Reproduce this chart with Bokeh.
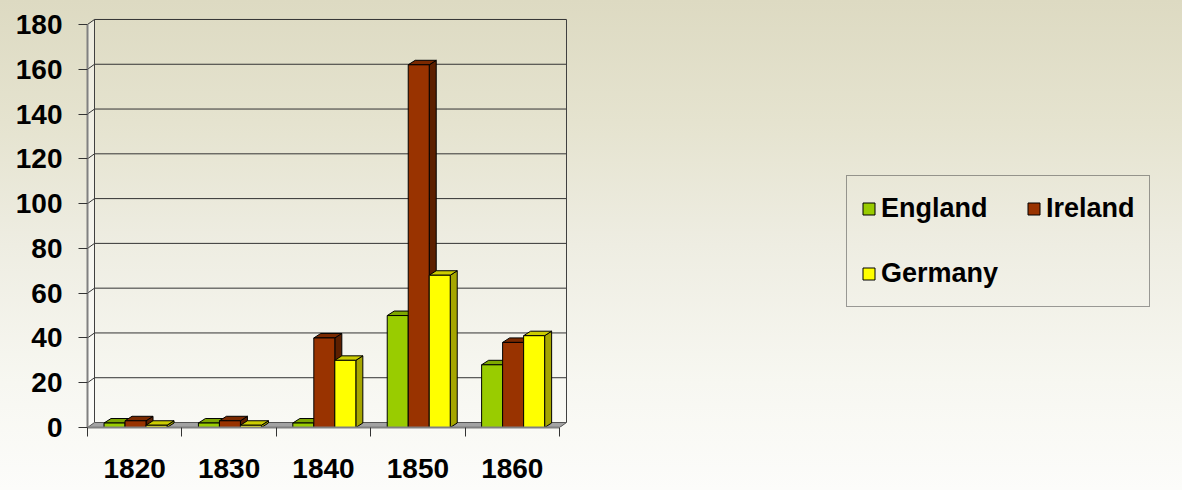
from bokeh.plotting import figure
from bokeh.models import Range1d, FixedTicker, Legend, LegendItem
from bokeh.embed import file_html
from bokeh.resources import INLINE

# ---- data ----
decades = ["1820", "1830", "1840", "1850", "1860"]
england = [2, 2, 2, 50, 28]
ireland = [3, 3, 40, 162, 38]
germany = [1, 1, 30, 68, 41]
series_names = ["England", "Ireland", "Germany"]
y_ticks = [0, 20, 40, 60, 80, 100, 120, 140, 160, 180]

# ---- styles ----
front_colors = ["#99cc00", "#993300", "#ffff00"]
top_colors = ["#7ea800", "#7a2900", "#cccc00"]
side_colors = ["#5f7f00", "#5c1f00", "#a6a600"]
FONT = "Liberation Sans"

W, H = 1182, 490
LEFT, BOTTOM = 87, 63
PX_X = 94.4     # pixels per category
PX_Y = 2.239    # pixels per unit
frame_w = W - LEFT
frame_h = H - BOTTOM
N = len(decades)
YMAX = y_ticks[-1]

DX, DY = 7 / PX_X, 5 / PX_Y        # wall depth
BDX, BDY = 7 / PX_X, 4.5 / PX_Y    # bar depth
BW = 0.2225                         # bar width (category units)
OFF = 0.175                         # group offset

p = figure(width=W, height=H, output_backend="svg", toolbar_location=None,
           x_range=Range1d(0, frame_w / PX_X), y_range=Range1d(0, frame_h / PX_Y),
           min_border_left=LEFT, min_border_right=0, min_border_top=0,
           min_border_bottom=BOTTOM)
p.background_fill_alpha = 0
p.border_fill_alpha = 0
p.outline_line_color = None
p.xgrid.visible = False
p.ygrid.visible = False
p.styles = {"background": "linear-gradient(to bottom, #dddac2 0%, #e5e3cf 25%, "
                          "#eeede2 50%, #f7f7f1 78%, #fcfcfa 100%)"}

# left wall
p.patch([0, DX, DX, 0], [0, DY, YMAX + DY, YMAX], fill_color="white",
        fill_alpha=0.45, line_color=None)
# back grid lines (incl. side-wall segments)
p.multi_line([[0, DX, N + DX] for v in y_ticks[1:]],
             [[v, v + DY, v + DY] for v in y_ticks[1:]],
             line_color="#333333", line_width=1)
# wall edges
p.segment(x0=[DX, N + DX], y0=[DY, DY], x1=[DX, N + DX], y1=[YMAX + DY, YMAX + DY],
          line_color="#404040", line_width=1)
# floor
p.patch([0, N, N + DX, DX], [0, 0, DY, DY], fill_color="#a3a3a3",
        line_color="#555555", line_width=1)

# bars
renderers = {}
for s, vals in enumerate([england, ireland, germany]):
    x0 = [i + OFF + s * BW for i in range(N)]
    x1 = [x + BW for x in x0]
    side_xs = [[a, a + BDX, a + BDX, a] for a in x1]
    side_ys = [[0, BDY, v + BDY, v] for v in vals]
    top_xs = [[a, b, b + BDX, a + BDX] for a, b in zip(x0, x1)]
    top_ys = [[v, v, v + BDY, v + BDY] for v in vals]
    p.patches(side_xs, side_ys, fill_color=side_colors[s], line_color="black", line_width=1)
    p.patches(top_xs, top_ys, fill_color=top_colors[s], line_color="black", line_width=1)
    r = p.quad(left=x0, right=x1, bottom=[0] * N, top=vals,
               fill_color=front_colors[s], line_color="black", line_width=1)
    renderers[series_names[s]] = r

# legend: column-major fill -> rows read England, Ireland / Germany
legend_order = ["England", "Germany", "Ireland"]
legend_items = [LegendItem(label=n, renderers=[renderers[n]]) for n in legend_order]

# axes
xa = p.xaxis[0]
xa.ticker = FixedTicker(ticks=[i + 0.5 for i in range(N)], minor_ticks=list(range(N + 1)))
xa.major_label_overrides = {i + 0.5: d for i, d in enumerate(decades)}
xa.bounds = (0, N)
xa.major_tick_out = 0
xa.major_tick_in = 0
xa.minor_tick_out = 9
xa.minor_tick_in = 0
xa.minor_tick_line_color = "#333333"
xa.axis_line_color = "#808080"
xa.axis_line_width = 2
xa.major_label_standoff = 22
xa.major_label_text_font = FONT
xa.major_label_text_font_style = "bold"
xa.major_label_text_font_size = "28px"
xa.major_label_text_color = "black"

ya = p.yaxis[0]
ya.ticker = FixedTicker(ticks=y_ticks, minor_ticks=[])
ya.bounds = (0, YMAX)
ya.major_tick_out = 9
ya.major_tick_in = 0
ya.major_tick_line_color = "#333333"
ya.axis_line_color = "#808080"
ya.axis_line_width = 2
ya.major_label_standoff = 16
ya.major_label_text_font = FONT
ya.major_label_text_font_style = "bold"
ya.major_label_text_font_size = "28px"
ya.major_label_text_color = "black"

legend = Legend(items=legend_items, location=(759, 120), ncols=2,
                padding=14, spacing=28, margin=0, label_standoff=5,
                glyph_width=15, glyph_height=15, label_height=37,
                label_text_font=FONT, label_text_font_style="bold",
                label_text_font_size="27px", label_text_color="black",
                border_line_color="#3f3f3f", border_line_width=1,
                background_fill_alpha=0)
p.add_layout(legend)

open("out.html", "w").write(file_html(p, INLINE))
